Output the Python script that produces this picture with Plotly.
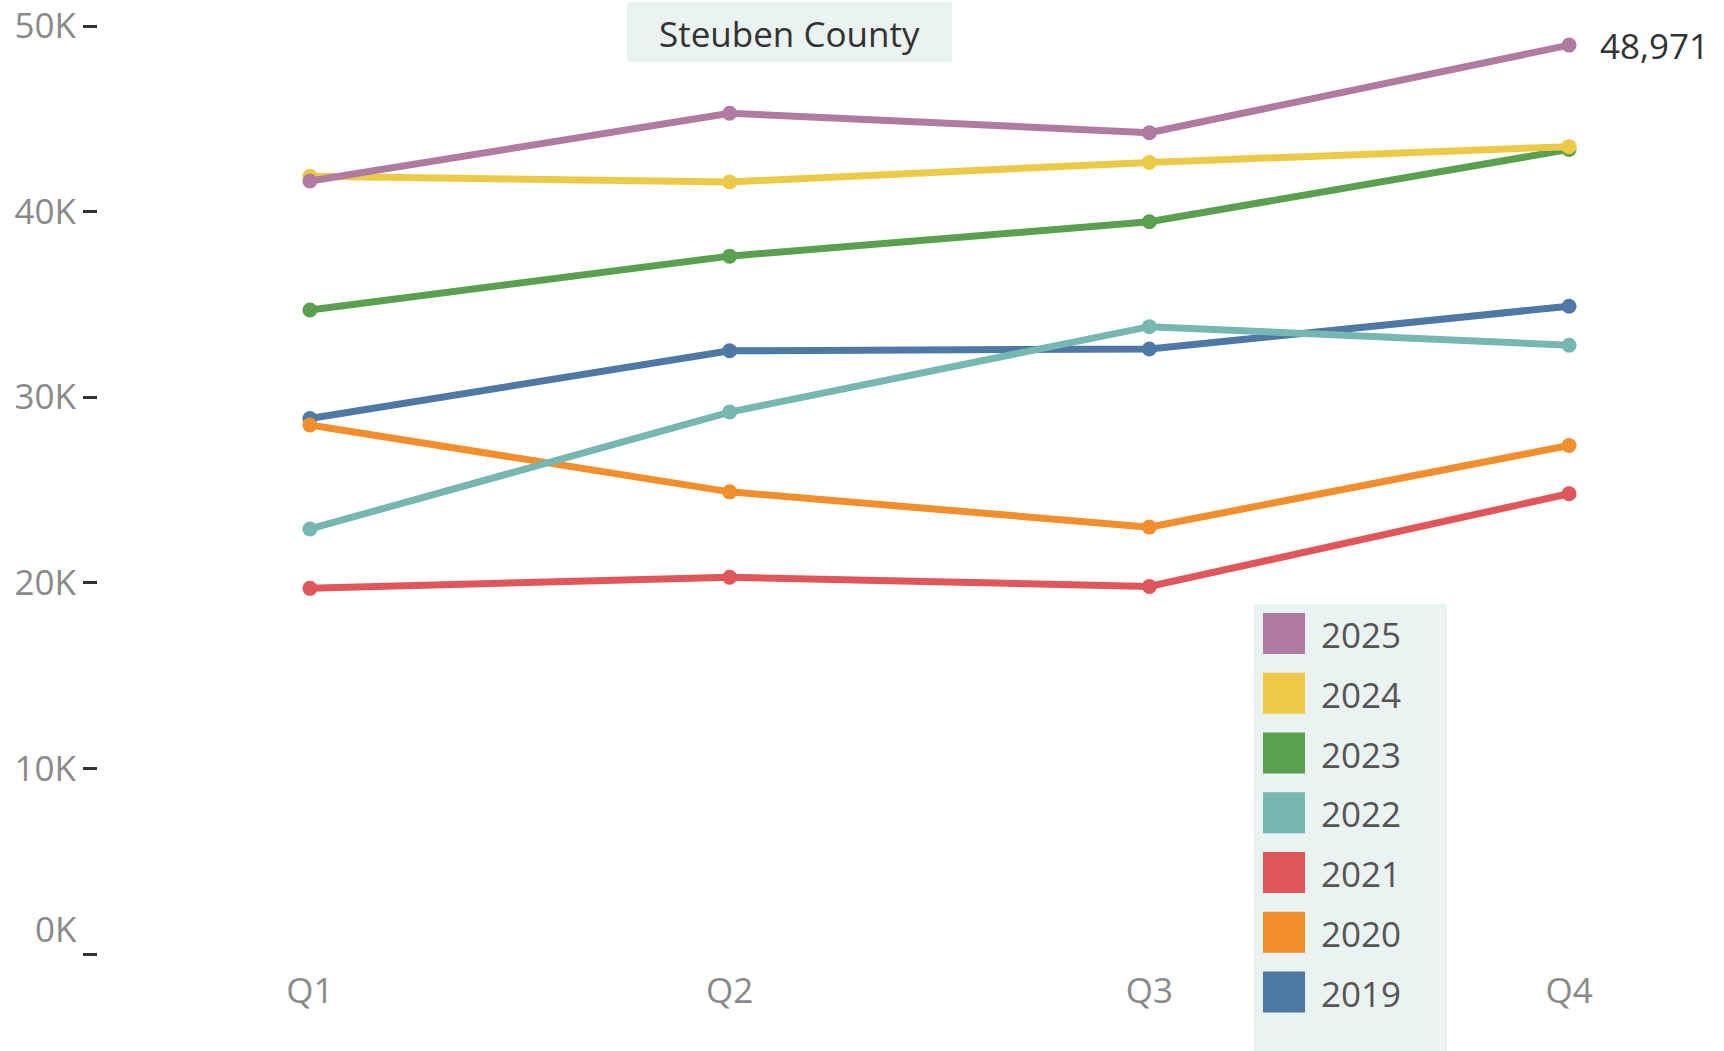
import plotly.graph_objects as go

# ---- data ----
quarters = ["Q1", "Q2", "Q3", "Q4"]
years = ["2019", "2020", "2021", "2022", "2023", "2024", "2025"]
v2019 = [28850, 32500, 32600, 34900]
v2020 = [28500, 24900, 23000, 27400]
v2021 = [19700, 20300, 19800, 24800]
v2022 = [22900, 29200, 33800, 32800]
v2023 = [34700, 37600, 39450, 43350]
v2024 = [41900, 41600, 42650, 43500]
v2025 = [41650, 45300, 44250, 48971]
series = [v2019, v2020, v2021, v2022, v2023, v2024, v2025]
colors = ["#4e79a7", "#f28e2b", "#e15759", "#76b7b2", "#59a14f", "#edc948", "#b07aa1"]
ytick_vals = [0, 10000, 20000, 30000, 40000, 50000]
ytick_text = ["", "10K", "20K", "30K", "40K", "50K"]
title_text = "Steuben County"

# ---- layout geometry (body margin removed by post_script) ----
W, H = 1724, 1051
L, R, T, B = 98, 24, 26, 97
PW, PH = W - L - R, H - T - B
FONT = "Open Sans"
FS = 35


def px_x(p):
    return (p - L) / PW


def px_y(p):
    return (H - B - p) / PH


fig = go.Figure()
xs = list(range(len(quarters)))
for yr, vals, c in zip(years, series, colors):
    fig.add_trace(go.Scatter(
        x=xs, y=vals, mode="lines+markers", name=yr,
        line=dict(color=c, width=7),
        marker=dict(color=c, size=15),
        showlegend=False,
        hovertemplate=yr + " %{text}: %{y:,}<extra></extra>",
        text=quarters,
    ))

shapes = []
annotations = []

# title box
shapes.append(dict(type="rect", xref="paper", yref="paper",
                   x0=px_x(627), x1=px_x(952), y0=px_y(62), y1=px_y(2),
                   fillcolor="#ebf2f2", line=dict(width=0), layer="below"))
annotations.append(dict(xref="paper", yref="paper", x=px_x(789.5), y=px_y(33),
                        text=title_text, showarrow=False, xanchor="center", yanchor="middle",
                        font=dict(family=FONT, size=FS, color="#333333")))

# last value label
annotations.append(dict(x=xs[-1], y=v2025[-1], text=f"{v2025[-1]:,}", showarrow=False,
                        xanchor="left", yanchor="middle", xshift=29,
                        font=dict(family=FONT, size=FS, color="#333333")))

# 0K label (raised, as in the reference)
annotations.append(dict(xref="paper", yref="y", x=0, y=0, text="0K", showarrow=False,
                        xanchor="right", yanchor="middle", xshift=-19, yshift=26,
                        font=dict(family=FONT, size=FS, color="#8a8a8a")))

# legend (manual, square swatches)
shapes.append(dict(type="rect", xref="paper", yref="paper",
                   x0=px_x(1254), x1=px_x(1447), y0=px_y(1051), y1=px_y(604),
                   fillcolor="#ebf2f2", line=dict(width=0), layer="below"))
for i, (yr, c) in enumerate(reversed(list(zip(years, colors)))):
    cy = 633.5 + i * 59.75
    shapes.append(dict(type="rect", xref="paper", yref="paper",
                       x0=px_x(1263), x1=px_x(1305), y0=px_y(cy + 20.5), y1=px_y(cy - 20.5),
                       fillcolor=c, line=dict(width=0), layer="above"))
    annotations.append(dict(xref="paper", yref="paper", x=px_x(1319), y=px_y(cy + 1),
                            text=yr, showarrow=False, xanchor="left", yanchor="middle",
                            font=dict(family=FONT, size=FS, color="#555555")))

fig.update_layout(
    width=W, height=H,
    margin=dict(l=L, r=R, t=T, b=B, pad=0, autoexpand=False),
    paper_bgcolor="white", plot_bgcolor="white",
    font=dict(family=FONT, size=FS, color="#8a8a8a"),
    shapes=shapes, annotations=annotations,
    showlegend=False,
    xaxis=dict(range=[-0.505, 3.312], tickvals=xs, ticktext=quarters,
               showgrid=False, zeroline=False, showline=False, automargin=False,
               ticks="outside", ticklen=6, tickcolor="rgba(0,0,0,0)",
               ticklabeloverflow="allow",
               tickfont=dict(family=FONT, size=FS, color="#8a8a8a"), fixedrange=True),
    yaxis=dict(range=[0, 50000], tickvals=ytick_vals, ticktext=ytick_text,
               showgrid=False, zeroline=False, showline=False, automargin=False,
               ticks="outside", ticklen=14, tickwidth=3, tickcolor="#333333",
               ticklabeloverflow="allow",
               tickfont=dict(family=FONT, size=FS, color="#8a8a8a"), fixedrange=True),
)

fig.write_html("out.html",
               config={"displayModeBar": False},
               post_script="document.body.style.margin='0';document.body.style.overflow='hidden';")
